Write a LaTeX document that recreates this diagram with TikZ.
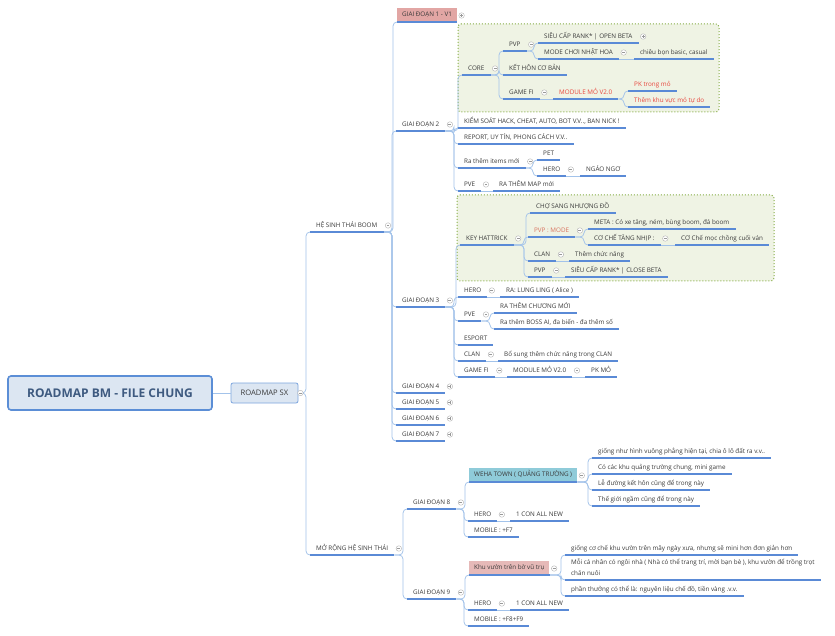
\documentclass[tikz,border=0pt]{standalone}
\usepackage{fontspec}
\setmainfont{Open Sans}
\usetikzlibrary{calc}
\definecolor{txt}{HTML}{3A3A3A}
\definecolor{ulblue}{HTML}{5A8AD6}
\definecolor{connblue}{HTML}{A3C3EA}
\definecolor{redtxt}{HTML}{E8453C}
\definecolor{salmon}{HTML}{D9735E}
\definecolor{grpline}{HTML}{86AD45}
\definecolor{grpfill}{HTML}{EFF3E4}
\definecolor{pinkA}{HTML}{E2A6A4}
\definecolor{pinkB}{HTML}{E6B9B8}
\definecolor{teal}{HTML}{8FCBD9}
\definecolor{rootfill}{HTML}{DCE6F2}
\definecolor{rootline}{HTML}{5B8ED6}
\definecolor{roottxt}{HTML}{3E5A80}
\newcommand\mmconn[2]{\draw[conn] (#1.south east) -| ([xshift=-4pt]#2.south west) -- (#2.south west);}
\newcommand\mmstraight[2]{\draw[conn] (#1.south east) -- (#2.south west);}
\newcommand\mmminus[1]{\node[mkminus] at ([shift={(4.5pt,6.5pt)}]#1.south east) {};}
\newcommand\mmplus[1]{\node[mkplus] at ([shift={(4.5pt,6.5pt)}]#1.south east) {};}
\begin{document}
\begin{tikzpicture}[x=1pt,y=-1pt,
  ul/.style={anchor=south west, inner xsep=6pt, inner ysep=3pt, text height=4.6pt, text depth=1.5pt,
    font=\fontsize{6.3}{7.5}\selectfont, text=txt},
  bx/.style={anchor=south west, inner xsep=5pt, inner ysep=0pt, minimum height=14pt, text height=4.6pt,
    text depth=1.5pt, font=\fontsize{6.3}{7.5}\selectfont, text=txt},
  conn/.style={draw=connblue, line width=0.75pt, rounded corners=4pt},
  ulline/.style={draw=ulblue, line width=1.2pt},
  grp/.style={draw=grpline, fill=grpfill, line width=1pt, dotted, rounded corners=3pt},
  mkr/.style={circle, draw=gray!60, fill=white, line width=0.4pt, minimum size=5.5pt, inner sep=0pt},
  mkminus/.style={mkr, path picture={\draw[gray!80, line width=0.45pt]
      ([xshift=1.3pt]path picture bounding box.west) -- ([xshift=-1.3pt]path picture bounding box.east);}},
  mkplus/.style={mkr, path picture={\draw[gray!80, line width=0.45pt]
      ([xshift=1.3pt]path picture bounding box.west) -- ([xshift=-1.3pt]path picture bounding box.east)
      ([yshift=-1.3pt]path picture bounding box.north) -- ([yshift=1.3pt]path picture bounding box.south);}}
]
\useasboundingbox (0,0) rectangle (835,636);
\fill[white] (0,0) rectangle (835,636);

% groups
\draw[grp] (458,24) rectangle (719,112);
\draw[grp] (457,195) rectangle (774,281);

% root and first level
\node[draw=rootline, fill=rootfill, line width=1.6pt, rounded corners=3pt, minimum width=204pt, minimum height=34pt,
  font=\fontsize{12}{14}\selectfont\bfseries, text=roottxt] (root) at (110,393) {ROADMAP BM - FILE CHUNG};
\node[draw=rootline!80, fill=rootfill, line width=0.8pt, rounded corners=2pt, minimum width=67pt, minimum height=20pt,
  font=\fontsize{7.6}{9}\selectfont, text=txt, inner sep=1pt] (rsx) at (264.5,393) {ROADMAP SX};

\node[ul] (hst) at (310,232) {HỆ SINH THÁI BOOM};
\node[ul] (mr) at (310,555) {MỞ RỘNG HỆ SINH THÁI};

% giai doan
\node[bx, fill=pinkA] (gd1) at (397,22) {GIAI ĐOẠN 1 - V1};
\node[ul] (gd2) at (396,131) {GIAI ĐOẠN 2};
\node[ul] (gd3) at (396,307) {GIAI ĐOẠN 3};
\node[ul] (gd4) at (396,393) {GIAI ĐOẠN 4};
\node[ul] (gd5) at (396,409) {GIAI ĐOẠN 5};
\node[ul] (gd6) at (396,425) {GIAI ĐOẠN 6};
\node[ul] (gd7) at (396,441) {GIAI ĐOẠN 7};

% giai doan 2
\node[ul] (core) at (462,75) {CORE};
\node[ul] (pvpa) at (503,51) {PVP};
\node[ul] (sieua) at (538,43) {SIÊU CẤP RANK* | OPEN BETA};
\node[ul] (modenh) at (538,59) {MODE CHƠI NHẬT HOA};
\node[ul] (chieu) at (634,59) {chiêu bọn basic, casual};
\node[ul] (kethon) at (503,75) {KẾT HÔN CƠ BẢN};
\node[ul] (gamefia) at (503,99) {GAME FI};
\node[ul, text=redtxt] (modulea) at (553,99) {MODULE MỎ V2.0};
\node[ul, text=redtxt] (pka) at (628,91) {PK trong mỏ};
\node[ul, text=redtxt] (themkhu) at (628,107) {Thêm khu vực mỏ tự do};
\node[ul] (kiem) at (458,128) {KIỂM SOÁT HACK, CHEAT, AUTO, BOT V.V.., BAN NICK !};
\node[ul] (report) at (458,144) {REPORT, UY TÍN, PHONG CÁCH V.V..};
\node[ul] (items) at (458,168) {Ra thêm items mới};
\node[ul] (pet) at (537,160) {PET};
\node[ul] (heroa) at (537,176) {HERO};
\node[ul] (ngao) at (580,176) {NGÁO NGƠ};
\node[ul] (pvea) at (458,191) {PVE};
\node[ul] (ramap) at (493,191) {RA THÊM MAP mới};

% giai doan 3
\node[ul] (key) at (460,245) {KEY HATTRICK};
\node[ul] (cho) at (530,213) {CHỢ SANG NHƯỢNG ĐỒ};
\node[ul, text=salmon] (pvpmode) at (528,237) {PVP : MODE};
\node[ul] (meta) at (588,229) {META : Có xe tăng, ném, bùng boom, đá boom};
\node[ul] (coche) at (588,245) {CƠ CHẾ TĂNG NHỊP :};
\node[ul] (cochemoc) at (675,245) {CƠ Chế mọc chồng cuối ván};
\node[ul] (clana) at (528,261) {CLAN};
\node[ul] (themcn) at (569,261) {Thêm chức năng};
\node[ul] (pvpb) at (528,277) {PVP};
\node[ul] (sieub) at (565,277) {SIÊU CẤP RANK* | CLOSE BETA};
\node[ul] (herob) at (458,297) {HERO};
\node[ul] (lung) at (500,297) {RA: LUNG LING ( Alice )};
\node[ul] (pveb) at (458,321) {PVE};
\node[ul] (chuong) at (494,313) {RA THÊM CHƯƠNG MỚI};
\node[ul] (boss) at (494,329) {Ra thêm BOSS AI, đa biến - đa thêm số};
\node[ul] (esport) at (458,345) {ESPORT};
\node[ul] (clanb) at (458,361) {CLAN};
\node[ul] (bosung) at (498,361) {Bổ sung thêm chức năng trong CLAN};
\node[ul] (gamefib) at (458,377) {GAME FI};
\node[ul] (moduleb) at (507,377) {MODULE MỎ V2.0};
\node[ul] (pkmo) at (585,377) {PK MỎ};

% mo rong
\node[ul] (gd8) at (407,509) {GIAI ĐOẠN 8};
\node[bx, fill=teal] (weha) at (469,482) {WEHA TOWN ( QUẢNG TRƯỜNG )};
\node[ul] (hka) at (592,458) {giống như hình vuông phẳng hiện tại, chia ô lô đất ra v.v..};
\node[ul] (hkb) at (592,474) {Có các khu quảng trường chung, mini game};
\node[ul] (hkc) at (592,490) {Lễ đường kết hôn cũng để trong này};
\node[ul] (hkd) at (592,506) {Thế giới ngầm cũng để trong này};
\node[ul] (heroc) at (468,521) {HERO};
\node[ul] (conc) at (510,521) {1 CON ALL NEW};
\node[ul] (mobc) at (468,537) {MOBILE : +F7};
\node[ul] (gd9) at (407,599) {GIAI ĐOẠN 9};
\node[bx, fill=pinkB] (khu) at (469,575) {Khu vườn trên bờ vũ trụ};
\node[ul] (kva) at (565,555) {giống cơ chế khu vườn trên mây ngày xưa, nhưng sẽ mini hơn đơn giản hơn};
\node[ul, align=left, font=\fontsize{6.3}{10.5}\selectfont, text height=15.1pt, text depth=1.5pt] (kvb) at (565,580)
  {Mỗi cá nhân có ngôi nhà ( Nhà có thể trang trí, mời bạn bè ), khu vườn để trồng trọt\\chăn nuôi};
\node[ul] (kvc) at (565,596) {phần thưởng có thể là: nguyên liệu chế đồ, tiền vàng .v.v.};
\node[ul] (herod) at (468,610) {HERO};
\node[ul] (cond) at (510,610) {1 CON ALL NEW};
\node[ul] (mobd) at (468,626) {MOBILE : +F8+F9};

% connectors
\draw[conn] (root.east) -- (rsx.west);
\draw[conn] (rsx.east) -| ([xshift=-4pt]hst.south west) -- (hst.south west);
\draw[conn] (rsx.east) -| ([xshift=-4pt]mr.south west) -- (mr.south west);
\foreach \c in {gd1,gd2,gd3,gd4,gd5,gd6,gd7} {\mmconn{hst}{\c}}
\foreach \c in {core,kiem,report,items,pvea} {\mmconn{gd2}{\c}}
\foreach \c in {pvpa,kethon,gamefia} {\mmconn{core}{\c}}
\foreach \c in {sieua,modenh} {\mmconn{pvpa}{\c}}
\mmstraight{modenh}{chieu}
\mmstraight{gamefia}{modulea}
\foreach \c in {pka,themkhu} {\mmconn{modulea}{\c}}
\foreach \c in {pet,heroa} {\mmconn{items}{\c}}
\mmstraight{heroa}{ngao}
\mmstraight{pvea}{ramap}
\foreach \c in {key,herob,pveb,esport,clanb,gamefib} {\mmconn{gd3}{\c}}
\foreach \c in {cho,pvpmode,clana,pvpb} {\mmconn{key}{\c}}
\foreach \c in {meta,coche} {\mmconn{pvpmode}{\c}}
\mmstraight{coche}{cochemoc}
\mmstraight{clana}{themcn}
\mmstraight{pvpb}{sieub}
\mmstraight{herob}{lung}
\foreach \c in {chuong,boss} {\mmconn{pveb}{\c}}
\mmstraight{clanb}{bosung}
\mmstraight{gamefib}{moduleb}
\mmstraight{moduleb}{pkmo}
\foreach \c in {gd8,gd9} {\mmconn{mr}{\c}}
\foreach \c in {weha,heroc,mobc} {\mmconn{gd8}{\c}}
\foreach \c in {hka,hkb,hkc,hkd} {\mmconn{weha}{\c}}
\mmstraight{heroc}{conc}
\foreach \c in {khu,herod,mobd} {\mmconn{gd9}{\c}}
\foreach \c in {kva,kvb,kvc} {\mmconn{khu}{\c}}
\mmstraight{herod}{cond}

% underlines
\foreach \n in {hst,mr,gd1,gd2,gd3,gd4,gd5,gd6,gd7,core,pvpa,sieua,modenh,chieu,kethon,gamefia,modulea,pka,themkhu,
  kiem,report,items,pet,heroa,ngao,pvea,ramap,key,cho,pvpmode,meta,coche,cochemoc,clana,themcn,pvpb,sieub,
  herob,lung,pveb,chuong,boss,esport,clanb,bosung,gamefib,moduleb,pkmo,gd8,weha,hka,hkb,hkc,hkd,heroc,conc,mobc,
  gd9,khu,kva,kvb,kvc,herod,cond,mobd}
  {\draw[ulline] (\n.south west) -- (\n.south east);}

% markers
\node[mkminus] at ([xshift=2pt]rsx.east) {};
\foreach \n in {hst,mr,gd2,core,pvpa,modenh,gamefia,items,heroa,pvea,gd3,key,pvpmode,coche,clana,pvpb,
  herob,pveb,clanb,gamefib,moduleb,gd8,weha,heroc,gd9,khu,herod} {\mmminus{\n}}
\foreach \n in {gd1,sieua,gd4,gd5,gd6,gd7} {\mmplus{\n}}
\end{tikzpicture}
\end{document}
